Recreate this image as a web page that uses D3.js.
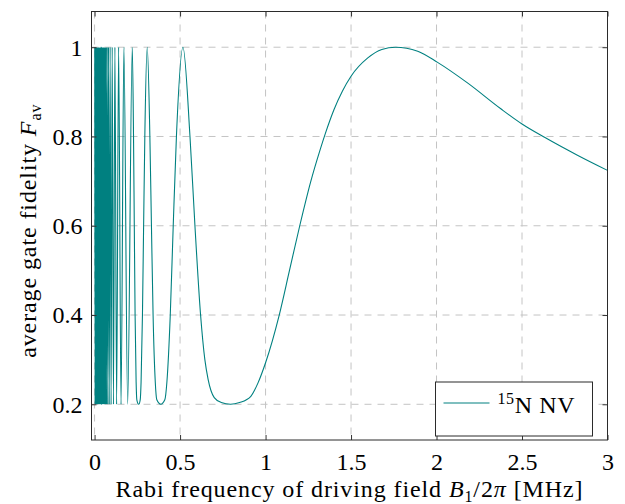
<!DOCTYPE html>
<html>
<head>
<meta charset="utf-8">
<script src="https://cdn.jsdelivr.net/npm/d3@7"></script>
<style>
  body { margin: 0; background: #fff; }
  text { font-family: "Liberation Serif", "DejaVu Serif", serif; fill: #000; }
</style>
</head>
<body>
<div id="chart"></div>
<script>
// Rabi frequency B1/2pi [MHz]
let rabiFreq = [
  0.001, 0.003, 0.005, 0.007, 0.009, 0.011, 0.013, 0.015, 0.017, 0.019,
  0.021, 0.023, 0.025, 0.027, 0.029, 0.031, 0.033, 0.035, 0.037,
  0.0386, 0.0396, 0.0407, 0.0418, 0.0429, 0.0441, 0.0454, 0.0468, 0.0483, 0.0498,
  0.0515, 0.0533, 0.0552, 0.0572, 0.0594, 0.0618, 0.0644, 0.0672, 0.0702, 0.0736,
  0.0773, 0.0813, 0.0858, 0.0909, 0.0966, 0.1031, 0.1104, 0.1189, 0.1289, 0.1406,
  0.1547, 0.1715, 0.1935, 0.2205,
  0.2278, 0.2323, 0.2370, 0.2430, 0.2472, 0.258, 0.2669, 0.2720, 0.2800, 0.2868, 0.2939, 0.308,
  0.3234, 0.3326, 0.3422, 0.3550, 0.3640, 0.387, 0.4108, 0.423, 0.4427, 0.460, 0.4787, 0.517,
  0.558, 0.587, 0.620, 0.645, 0.664, 0.700, 0.741, 0.795, 0.848, 0.914, 0.956,
  1.0, 1.08, 1.14, 1.20, 1.265, 1.319, 1.35, 1.40, 1.45, 1.5, 1.598, 1.68, 1.76,
  1.89, 2.006, 2.181, 2.376, 2.5, 2.637, 2.824, 3.0
]
// average gate fidelity F_av
let fidelity = [
  1, 0.2, 1, 0.2, 1, 0.2, 1, 0.2, 1, 0.2,
  1, 0.2, 1, 0.2, 1, 0.2, 1, 0.2, 1,
  0.2, 1, 0.2, 1, 0.2, 1, 0.2, 1, 0.2, 1,
  0.2, 1, 0.2, 1, 0.2, 1, 0.2, 1, 0.2, 1,
  0.2, 1, 0.2, 1, 0.2, 1, 0.2, 1, 0.2, 1,
  0.2, 1, 0.2, 1,
  0.8, 0.6, 0.4, 0.25, 0.21, 0.2, 0.21, 0.25, 0.4, 0.6, 0.8, 1,
  0.8, 0.6, 0.4, 0.25, 0.21, 0.2, 0.21, 0.25, 0.4, 0.6, 0.8, 1,
  0.8, 0.6, 0.4, 0.3, 0.256, 0.215, 0.204, 0.2, 0.204, 0.218, 0.248,
  0.293, 0.4, 0.5, 0.6, 0.7, 0.77, 0.807, 0.86, 0.902, 0.935, 0.976, 0.995, 1.0,
  0.991, 0.966, 0.92, 0.862, 0.828, 0.797, 0.758, 0.724
]
let xTicks = [0, 0.5, 1, 1.5, 2, 2.5, 3]
let xTickLabels = ["0", "0.5", "1", "1.5", "2", "2.5", "3"]
let yTicks = [0.2, 0.4, 0.6, 0.8, 1]
let yTickLabels = ["0.2", "0.4", "0.6", "0.8", "1"]
let seriesName = "N NV"
let seriesIsotope = "15"

let margin = { top: 11.5, right: 17.5, bottom: 64, left: 91.5 },
  width = 625 - margin.left - margin.right,
  height = 504 - margin.top - margin.bottom

let data = rabiFreq.map((x, i) => ({ x: x, y: fidelity[i] }))

let svg = d3.select("#chart")
  .append("svg")
  .attr("width", 625)
  .attr("height", 504)
  .append("g")
  .attr("transform", "translate(" + margin.left + "," + margin.top + ")")

let xScale = d3.scaleLinear().domain([-0.018, 3]).range([0, width])
let yScale = d3.scaleLinear().domain([0.12, 1.08]).range([height, 0])

// dashed grid
let grid = svg.append("g").attr("class", "grid")
grid.selectAll(".gx").data(xTicks).enter().append("line")
  .attr("x1", d => xScale(d)).attr("x2", d => xScale(d))
  .attr("y1", 0).attr("y2", height)
grid.selectAll(".gy").data(yTicks).enter().append("line")
  .attr("x1", 0).attr("x2", width)
  .attr("y1", d => yScale(d)).attr("y2", d => yScale(d))
grid.selectAll("line")
  .style("stroke", "#c4c4c4")
  .style("stroke-width", 1)
  .style("stroke-dasharray", "7,6")

// clip + curve
svg.append("clipPath").attr("id", "clip")
  .append("rect").attr("width", width).attr("height", height)

let line = d3.line()
  .x(d => xScale(d.x))
  .y(d => yScale(d.y))
  .curve(d3.curveMonotoneX)

svg.append("path")
  .datum(data)
  .attr("clip-path", "url(#clip)")
  .attr("d", line)
  .style("fill", "none")
  .style("stroke", "#008080")
  .style("stroke-width", 1.1)

// axes, ticks pointing inward on all four sides
let fmtX = d => xTickLabels[xTicks.indexOf(d)]
let fmtY = d => yTickLabels[yTicks.indexOf(d)]

let xAxis = svg.append("g")
  .attr("transform", "translate(0," + height + ")")
  .call(d3.axisBottom(xScale).tickValues(xTicks).tickFormat(fmtX).tickSize(-5).tickPadding(0))
xAxis.selectAll("text").attr("dy", null).attr("y", 30).style("font-size", "24px")

let yAxis = svg.append("g")
  .call(d3.axisLeft(yScale).tickValues(yTicks).tickFormat(fmtY).tickSize(-5).tickPadding(0))
yAxis.selectAll("text").attr("dy", "0.33em").attr("x", -9).style("font-size", "24px")

svg.append("g")
  .call(d3.axisTop(xScale).tickValues(xTicks).tickFormat("").tickSize(-5))
svg.append("g")
  .attr("transform", "translate(" + width + ",0)")
  .call(d3.axisRight(yScale).tickValues(yTicks).tickFormat("").tickSize(-5))

svg.selectAll(".domain").remove()
svg.selectAll(".tick line").style("stroke", "#333")

svg.append("rect")
  .attr("width", width).attr("height", height)
  .style("fill", "none").style("stroke", "#2b2b2b").style("stroke-width", 1)

// axis titles
let xTitle = svg.append("text")
  .attr("x", width / 2).attr("y", height + 57)
  .attr("text-anchor", "middle")
  .style("font-size", "24px")
  .style("letter-spacing", "0.9px")
xTitle.append("tspan").text("Rabi frequency of driving field ")
xTitle.append("tspan").style("font-style", "italic").text("B")
xTitle.append("tspan").attr("dy", 5).style("font-size", "16px").text("1")
xTitle.append("tspan").attr("dy", -5).text("/2")
xTitle.append("tspan").style("font-style", "italic").text("π")
xTitle.append("tspan").text(" [MHz]")

let yTitle = svg.append("text")
  .attr("transform", "translate(" + (36 - margin.left) + "," + (height / 2 + 5) + ") rotate(-90)")
  .attr("text-anchor", "middle")
  .style("font-size", "24px")
  .style("letter-spacing", "0.9px")
yTitle.append("tspan").text("average gate fidelity ")
yTitle.append("tspan").style("font-style", "italic").text("F")
yTitle.append("tspan").attr("dy", 5).style("font-size", "16px").text("av")

// legend
let legend = svg.append("g")
  .attr("transform", "translate(" + (width - 172) + "," + (height - 58) + ")")
legend.append("rect")
  .attr("width", 157).attr("height", 54)
  .style("fill", "#fff").style("stroke", "#2b2b2b").style("stroke-width", 1)
legend.append("line")
  .attr("x1", 8).attr("x2", 54).attr("y1", 21).attr("y2", 21)
  .style("stroke", "#008080").style("stroke-width", 1.1)
let lt = legend.append("text").attr("x", 62).attr("y", 31)
  .style("font-size", "24px").style("letter-spacing", "0.6px")
lt.append("tspan").attr("dy", -9).style("font-size", "16px").text(seriesIsotope)
lt.append("tspan").attr("dy", 9).text(seriesName)
</script>
</body>
</html>
